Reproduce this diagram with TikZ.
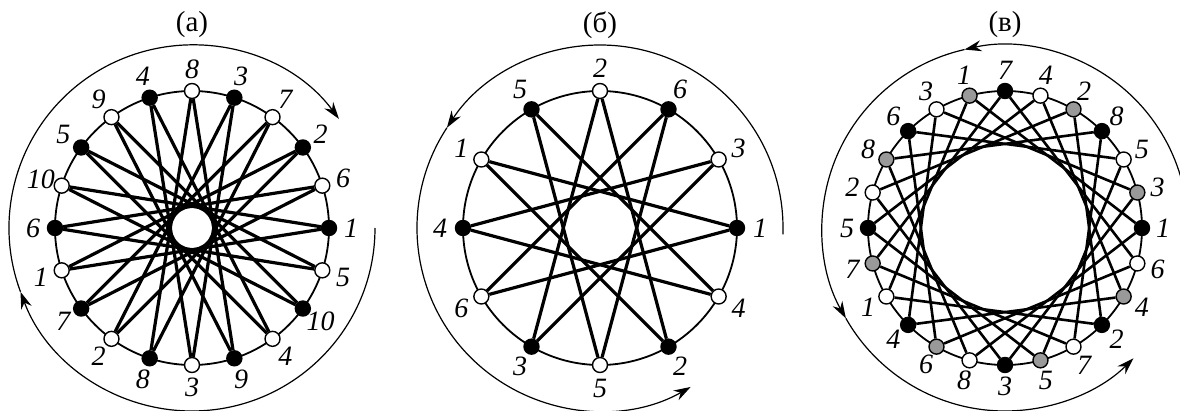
\documentclass[tikz,border=0pt]{standalone}
\usepackage{fontspec}
\setmainfont{Liberation Serif}
\usepackage{tikz}
\usetikzlibrary{arrows.meta}

\tikzset{
  slot/.style={circle, draw, line width=1.4pt, inner sep=0pt, minimum size=15pt},
  core/.style={line width=1.8pt},
  coil/.style={line width=3.2pt},
  num/.style={font=\fontsize{28}{28}\selectfont\itshape, inner sep=0pt},
  ttl/.style={font=\fontsize{29}{29}\selectfont, inner sep=0pt},
  travel/.style={line width=1.2pt, -{Stealth[length=17pt,width=11pt]}},
}

\begin{document}
\begin{tikzpicture}[x=1pt,y=1pt]
  \useasboundingbox (0,0) rectangle (1180,410);
  \clip (0,0) rectangle (1180,410);
  % (a): 20 slots
  \begin{scope}[shift={(192,182)}]
    \coordinate (ca) at (0,0);
    \node[ttl] (ta) at (0,203) {(а)};
    \draw[core] (ca) circle[radius=137pt];
    \foreach \lab [count=\i] in {1,6,2,7,3,8,4,9,5,10,6,1,7,2,8,3,9,4,10,5} {
      \pgfmathtruncatemacro\a{(\i-1)*18}
      \ifodd\i \def\fc{black}\else \def\fc{white}\fi
      \node[slot, fill=\fc] (a\i) at (\a:137) {};
      \node[num] (na\i) at (\a:159) {\lab};
    }
    \foreach \i in {1,...,20} {
      \pgfmathtruncatemacro\j{mod(\i+8,20)+1}
      \draw[coil] (a\i) -- (a\j);
    }
    \draw[travel] (0:183) arc[start angle=0, end angle=-159.6, radius=183pt];
    \draw[travel] (-159.6:183) arc[start angle=-159.6, end angle=-323.4, radius=183pt];
  \end{scope}
  % (b): 12 slots
  \begin{scope}[shift={(600,182)}]
    \coordinate (cb) at (0,0);
    \node[ttl] (tb) at (0,203) {(б)};
    \draw[core] (cb) circle[radius=137pt];
    \foreach \lab [count=\i] in {1,3,6,2,5,1,4,6,3,5,2,4} {
      \pgfmathtruncatemacro\a{(\i-1)*30}
      \ifodd\i \def\fc{black}\else \def\fc{white}\fi
      \node[slot, fill=\fc] (b\i) at (\a:137) {};
      \node[num] (nb\i) at (\a:160) {\lab};
    }
    \foreach \i in {1,...,12} {
      \pgfmathtruncatemacro\j{mod(\i+4,12)+1}
      \draw[coil] (b\i) -- (b\j);
    }
    \draw[travel] (-2:183) arc[start angle=-2, end angle=146.8, radius=183pt];
    \draw[travel] (146.8:183) arc[start angle=146.8, end angle=299.7, radius=183pt];
  \end{scope}
  % (v): 24 slots
  \begin{scope}[shift={(1005,182)}]
    \coordinate (cc) at (0,0);
    \node[ttl] (tc) at (0,203) {(в)};
    \draw[core] (cc) circle[radius=137pt];
    \foreach \lab [count=\i] in {1,3,5,8,2,4,7,1,3,6,8,2,5,7,1,4,6,8,3,5,7,2,4,6} {
      \pgfmathtruncatemacro\a{(\i-1)*15}
      \pgfmathtruncatemacro\k{mod(\i,3)}
      \ifcase\k \def\fc{white}\or \def\fc{black}\or \def\fc{gray!80}\fi
      \node[slot, fill=\fc] (c\i) at (\a:137) {};
      \node[num] (nc\i) at (\a:158) {\lab};
    }
    \foreach \i in {1,...,24} {
      \pgfmathtruncatemacro\j{mod(\i+6,24)+1}
      \draw[coil, line width=2.6pt] (c\i) -- (c\j);
    }
    \draw[travel] (-8:183) arc[start angle=-8, end angle=102.8, radius=183pt];
    \draw[travel] (102.8:183) arc[start angle=102.8, end angle=209.6, radius=183pt];
    \draw[travel] (209.6:183) arc[start angle=209.6, end angle=314.6, radius=183pt];
  \end{scope}
\end{tikzpicture}
\end{document}
